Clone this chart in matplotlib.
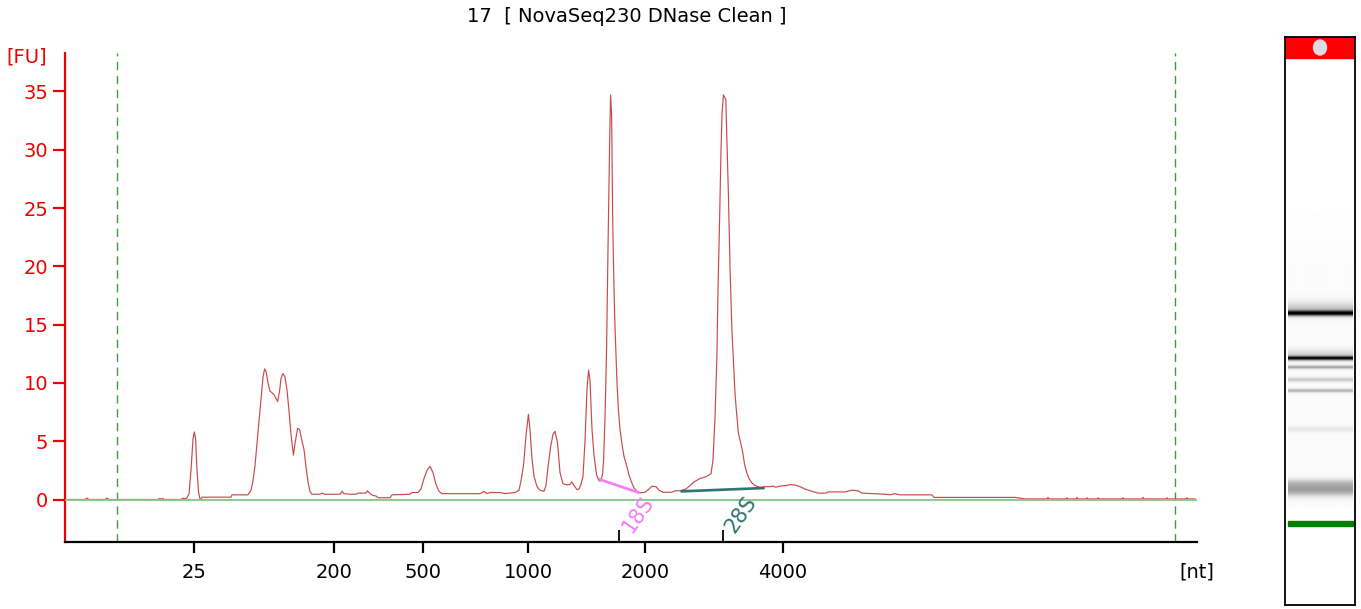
import matplotlib
matplotlib.use("Agg")
import matplotlib.pyplot as plt
import numpy as np
from matplotlib.patches import Rectangle, Ellipse

# ---------------- data ----------------
title_text = "17  [ NovaSeq230 DNase Clean ]"

# electropherogram: migration time (s) and fluorescence (FU)
time_s = [19.0, 20.0, 20.1, 20.2, 21.0, 21.1, 21.2, 23.65, 23.75, 23.8, 23.9, 23.95,
          24.8, 24.9, 25.0, 25.1, 25.2, 25.3, 25.4, 25.47, 25.53, 25.6, 25.68, 25.75,
          25.8, 25.85, 27.3, 27.35, 28.15, 28.3, 28.4, 28.5, 28.6, 28.7, 28.8, 28.9,
          28.98, 29.05, 29.15, 29.25, 29.45, 29.63, 29.73, 29.8, 29.9, 30.0, 30.1, 30.2,
          30.3, 30.42, 30.5, 30.63, 30.73, 30.85, 30.95, 31.05, 31.15, 31.25, 31.35,
          31.75, 31.85, 32.0, 32.75, 32.85, 32.95, 33.25, 33.55, 33.65, 34.05, 34.13,
          34.25, 34.4, 34.55, 34.65, 35.25, 35.35, 36.25, 36.35, 36.65, 36.8, 36.95,
          37.1, 37.25, 37.4, 37.55, 37.7, 37.85, 39.75, 39.95, 40.1, 40.25, 40.75, 41.0,
          41.5, 41.7, 41.8, 41.93, 42.05, 42.17, 42.25, 42.35, 42.45, 42.6, 42.75, 42.95,
          43.05, 43.15, 43.28, 43.4, 43.5, 43.63, 43.75, 43.9, 44.1, 44.25, 44.35, 44.45,
          44.6, 44.7, 44.8, 44.9, 45.0, 45.1, 45.18, 45.25, 45.35, 45.45, 45.58, 45.7,
          45.8, 45.88, 45.93, 46.0, 46.08, 46.15, 46.23, 46.28, 46.33, 46.39, 46.45,
          46.5, 46.6, 46.67, 46.75, 46.84, 46.95, 47.09, 47.2, 47.34, 47.45, 47.59,
          47.75, 48.0, 48.2, 48.35, 48.55, 48.7, 48.9, 49.35, 49.5, 49.75, 50.05, 50.25,
          50.45, 50.75, 51.05, 51.3, 51.4, 51.5, 51.59, 51.65, 51.73, 51.8, 51.85, 51.92,
          52.04, 52.1, 52.17, 52.25, 52.34, 52.43, 52.5, 52.58, 52.67, 52.78, 52.89,
          52.98, 53.09, 53.2, 53.34, 53.5, 53.75, 54.0, 54.25, 54.4, 54.55, 54.75, 55.05,
          55.25, 55.5, 55.75, 56.05, 56.35, 56.65, 57.05, 57.15, 58.0, 58.35, 58.65,
          58.85, 60.0, 60.25, 60.5, 60.75, 62.35, 62.45, 66.5, 66.75, 67.0,
          68.1, 68.15, 68.2, 69.05, 69.1, 69.15, 69.55, 69.6, 69.65, 70.05, 70.1, 70.15,
          70.6, 70.65, 70.7, 71.85, 71.9, 71.95, 72.85, 72.9, 72.95, 74.05, 74.1, 74.15,
          75.05, 75.1, 75.15, 75.5]
fu = [0.0, 0.0, 0.12, 0.0, 0.0, 0.12, 0.0, 0.0, 0.1, 0.0, 0.1, 0.0,
      0.0, 0.12, 0.05, 0.15, 0.5, 2.5, 5.2, 5.8, 5.2, 2.5, 0.6, 0.05,
      0.0, 0.2, 0.2, 0.4, 0.4, 0.8, 1.6, 2.9, 4.8, 6.8, 8.5, 10.5,
      11.2, 11.0, 10.0, 9.3, 9.0, 8.4, 9.3, 10.4, 10.8, 10.5, 9.4, 7.6,
      5.6, 3.8, 4.8, 6.1, 6.0, 5.0, 4.3, 2.8, 1.5, 0.7, 0.45,
      0.45, 0.55, 0.45, 0.45, 0.7, 0.5, 0.45, 0.45, 0.55, 0.55, 0.75,
      0.5, 0.35, 0.3, 0.15, 0.15, 0.4, 0.45, 0.6, 0.6, 0.9, 1.8,
      2.5, 2.85, 2.3, 1.3, 0.7, 0.5, 0.5, 0.7, 0.5, 0.6, 0.6, 0.5,
      0.6, 0.8, 1.6, 3.0, 5.5, 7.3, 6.0, 3.5, 2.0, 1.1, 0.8, 0.7,
      1.2, 2.8, 4.5, 5.6, 5.85, 4.8, 2.3, 1.35, 1.25, 1.3, 1.5, 1.2,
      0.85, 0.9, 1.3, 2.0, 5.0, 9.5, 11.1, 10.2, 6.0, 3.8, 2.1, 1.6,
      1.6, 2.2, 3.4, 7.0, 13.0, 21.5, 30.5, 34.7, 33.0, 23.4, 18.0,
      14.8, 10.0, 7.7, 6.0, 4.85, 3.7, 2.85, 2.1, 1.43, 1.0, 0.7,
      0.57, 0.62, 0.9, 1.14, 1.1, 0.8, 0.62, 0.62, 0.75, 0.75, 0.9, 1.2,
      1.5, 1.8, 1.95, 2.2, 3.4, 7.0, 12.0, 18.0, 24.0, 30.0, 33.0, 34.7,
      34.3, 30.5, 26.2, 20.0, 14.8, 11.5, 9.1, 7.4, 5.7, 4.9, 4.0,
      3.0, 2.3, 1.8, 1.43, 1.2, 1.05, 1.1, 1.1, 1.15, 1.05, 1.15, 1.2,
      1.28, 1.25, 1.1, 0.86, 0.7, 0.55, 0.55, 0.65, 0.65, 0.8, 0.75,
      0.55, 0.45, 0.4, 0.5, 0.4, 0.4, 0.18, 0.18, 0.12, 0.05,
      0.05, 0.18, 0.05, 0.05, 0.15, 0.05, 0.05, 0.18, 0.05, 0.05, 0.15, 0.05,
      0.05, 0.15, 0.05, 0.05, 0.15, 0.05, 0.05, 0.18, 0.05, 0.05, 0.15, 0.05,
      0.05, 0.15, 0.05, 0.05]

# ladder (size in nt) at its migration time
ladder_labels = ["25", "200", "500", "1000", "2000", "4000"]
ladder_time = [25.47, 32.47, 36.89, 42.17, 48.0, 54.89]
x_unit_label = "[nt]"
x_min, x_max = 19.0, 75.6
y_min, y_max = -3.645, 38.32
y_ticks = [0, 5, 10, 15, 20, 25, 30, 35]

# rRNA fragment windows
rrna_names = ["18S", "28S"]
rrna_tick_time = [46.69, 51.89]
rrna_start_time = [45.75, 49.84]
rrna_start_fu = [1.71, 0.70]
rrna_end_time = [47.67, 53.92]
rrna_end_fu = [0.60, 0.98]
rrna_label_time = [47.65, 52.8]
rrna_label_fu = [-1.3, -1.3]
rrna_colors = ["#f47cf4", "#2f7474"]

# lower / upper marker window
marker_window = [21.6, 74.5]

# gel-like image: band positions (px from top of lane), strength, width
gel_band_pos = [276, 272, 321, 318, 330, 342.5, 353.5, 392, 446, 453]
gel_band_strength = [0.95, 0.2, 0.9, 0.15, 0.35, 0.2, 0.3, 0.08, 0.2, 0.35]
gel_band_width = [1.8, 5.0, 1.4, 4.0, 1.2, 1.5, 1.2, 2.0, 3.0, 4.0]
gel_marker_pos = 486.5

assert len(time_s) == len(fu)

# ---------------- figure ----------------
W, H = 1361, 609
fig = plt.figure(figsize=(W / 100, H / 100), dpi=100)
FONT = "DejaVu Sans"
plt.rcParams["font.family"] = FONT

ax = fig.add_axes([65 / W, 1 - 542 / H, (1197 - 65) / W, (542 - 52.7) / H])
ax.set_xlim(x_min, x_max)
ax.set_ylim(y_min, y_max)
for s in ("top", "right"):
    ax.spines[s].set_visible(False)
ax.spines["left"].set_color("#ee0000")
ax.spines["left"].set_linewidth(1.6)
ax.spines["bottom"].set_color("black")
ax.spines["bottom"].set_linewidth(1.6)

# trace
ax.plot(time_s, fu, color="#c94a4a", lw=0.85, zorder=3)
ax.axhline(0, color="#86c486", lw=1.3, zorder=4)

for t in marker_window:
    ax.axvline(t, color="#3f9a3f", lw=1.0, dashes=(6, 4), zorder=2)

for i, name in enumerate(rrna_names):
    ax.plot([rrna_start_time[i], rrna_end_time[i]], [rrna_start_fu[i], rrna_end_fu[i]],
            color=rrna_colors[i], lw=1.9, zorder=5)
    ax.text(rrna_label_time[i], rrna_label_fu[i], name, rotation=55, color=rrna_colors[i],
            fontsize=15, ha="center", va="center", rotation_mode="anchor", zorder=6)

# y axis
ax.set_yticks(y_ticks)
ax.set_yticklabels([str(v) for v in y_ticks])
ax.tick_params(axis="y", colors="#ee0000", labelsize=14, length=9, width=1.6, pad=3)

# x axis
ax.set_xticks(ladder_time + [x_max])
ax.set_xticklabels(ladder_labels + [x_unit_label])
ax.tick_params(axis="x", which="major", colors="black", labelsize=14, length=8, width=1.6, pad=7)
ax.xaxis.get_major_ticks()[-1].tick1line.set_visible(False)
ax.set_xticks(rrna_tick_time, minor=True)
ax.tick_params(axis="x", which="minor", direction="in", length=9, width=1.3, color="black")

fig.text(27 / W, 1 - 57 / H, "[FU]", color="#ee0000", fontsize=14, ha="center", va="center")
fig.text(627 / W, 1 - 17 / H, title_text, color="black", fontsize=14, ha="center", va="center")

# ---------------- gel lane ----------------
gax = fig.add_axes([1285 / W, 1 - 605 / H, 70 / W, 568 / H])
lane_h = 568
gax.set_xlim(0, 70)
gax.set_ylim(lane_h, 0)
gax.set_xticks([])
gax.set_yticks([])
for s in gax.spines.values():
    s.set_color("black")
    s.set_linewidth(1.3)

yy = np.arange(0, lane_h, 0.25)
dens = np.zeros_like(yy)
for p, a, w in zip(gel_band_pos, gel_band_strength, gel_band_width):
    dens += a * np.exp(-0.5 * ((yy - p) / w) ** 2)
# faint background haze of the lane, fading in smoothly
dens += 0.018 * np.clip((yy - 150) / 120, 0, 1) * (yy < 470)
shade = 1 - np.clip(dens, 0, 1)
gax.imshow(shade[:, None], cmap="gray", vmin=0, vmax=1, aspect="auto",
           extent=(3, 68, lane_h, 0), interpolation="bilinear", zorder=1)
gax.add_patch(Rectangle((0, 0), 70, 21, color="#ff0000", zorder=2))
gax.add_patch(Ellipse((35, 10.5), 13, 15, color="#dcdce4", zorder=3))
gax.add_patch(Rectangle((3, gel_marker_pos - 2.5), 65, 5, color="#008000", zorder=2))

fig.savefig("out.png", dpi=100)
